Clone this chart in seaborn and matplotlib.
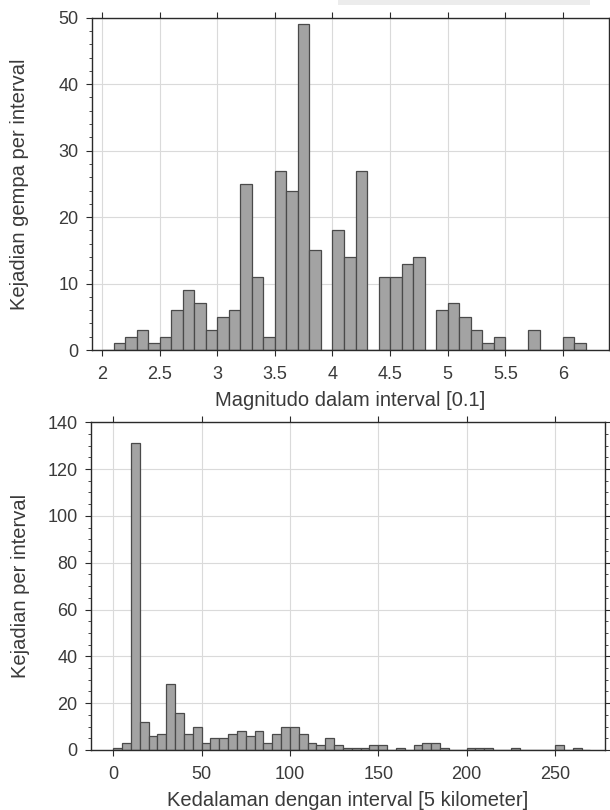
import numpy as np
import pandas as pd
import matplotlib
matplotlib.use("Agg")
import matplotlib.pyplot as plt
from matplotlib.ticker import MultipleLocator
from matplotlib.patches import Rectangle
import seaborn as sns

# magnitude histogram, bins of 0.1 starting at 2.0
mag_edges = [round(2.0 + 0.1 * i, 1) for i in range(43)]
mag_counts = [0, 1, 2, 3, 1, 2, 6, 9, 7, 3,
              5, 6, 25, 11, 2, 27, 24, 49, 15, 0,
              18, 14, 27, 0, 11, 11, 13, 14, 0, 6,
              7, 5, 3, 1, 2, 0, 0, 3, 0, 0,
              2, 1]

# depth histogram, bins of 5 km starting at 0
depth_edges = [5 * i for i in range(55)]
depth_counts = [1, 3, 131, 12, 6, 7, 28, 16, 7, 10,
                3, 5, 5, 7, 8, 6, 8, 3, 7, 10,
                10, 7, 3, 2, 5, 2, 1, 1, 1, 2,
                2, 0, 1, 0, 2, 3, 3, 1, 0, 0,
                1, 1, 1, 0, 0, 1, 0, 0, 0, 0,
                2, 0, 1, 0]

mag_df = pd.DataFrame({'mag': [(a + b) / 2 for a, b in zip(mag_edges[:-1], mag_edges[1:])],
                       'n': mag_counts})
depth_df = pd.DataFrame({'depth': [(a + b) / 2 for a, b in zip(depth_edges[:-1], depth_edges[1:])],
                         'n': depth_counts})

sns.set_style("whitegrid")
plt.rcParams['font.family'] = ['Liberation Sans', 'DejaVu Sans']

BAR = '#a3a3a3'
EDGE = '#4a4a4a'
TXT = '#3a3a3a'


def style_axes(ax, ymajor, yminor):
    ax.set_facecolor('white')
    ax.grid(True, which='major', color='#dadada', linewidth=0.8)
    ax.set_axisbelow(True)
    for s in ax.spines.values():
        s.set_visible(True)
        s.set_color('#2a2a2a')
        s.set_linewidth(1.0)
    ax.yaxis.set_major_locator(MultipleLocator(ymajor))
    ax.yaxis.set_minor_locator(MultipleLocator(yminor))
    ax.tick_params(which='both', direction='out', top=True, right=True,
                   bottom=True, left=True, color='#2a2a2a',
                   labelcolor=TXT, labelsize=13)
    ax.tick_params(which='major', length=4)
    ax.tick_params(which='minor', length=2.5)
    ax.tick_params(axis='x', which='minor', top=False, bottom=False)
    ax.tick_params(axis='x', pad=7.5)
    ax.tick_params(axis='y', pad=5.5)


fig = plt.figure(figsize=(6.1, 8.1), dpi=100)
ax1 = fig.add_axes([0.1503, 0.5679, 0.848, 0.4102])
ax2 = fig.add_axes([0.1487, 0.0741, 0.8431, 0.4046])

sns.histplot(data=mag_df, x='mag', weights='n', bins=mag_edges, ax=ax1,
             color=BAR, edgecolor=EDGE, linewidth=0.9, alpha=1)
sns.histplot(data=depth_df, x='depth', weights='n', bins=depth_edges, ax=ax2,
             color=BAR, edgecolor=EDGE, linewidth=0.9, alpha=1)

ax1.set_xlim(1.91, 6.40)
ax1.set_ylim(0, 50)
style_axes(ax1, 10, 2)
mag_ticks = [2, 2.5, 3, 3.5, 4, 4.5, 5, 5.5, 6]
ax1.set_xticks(mag_ticks)
ax1.set_xticklabels([f'{v:g}' for v in mag_ticks])
ax1.set_xlabel('Magnitudo dalam interval [0.1]', fontsize=14.5, color=TXT)
ax1.set_ylabel('Kejadian gempa per interval', fontsize=14.5, color=TXT)
ax1.xaxis.set_label_coords(0.5, -0.122)
ax1.yaxis.set_label_coords(-0.121, 0.5)

ax2.set_xlim(-12.8, 278.3)
ax2.set_ylim(0, 140)
ax2.xaxis.set_major_locator(MultipleLocator(50))
style_axes(ax2, 20, 5)
ax2.set_xlabel('Kedalaman dengan interval [5 kilometer]', fontsize=14.5, color=TXT)
ax2.set_ylabel('Kejadian per interval', fontsize=14.5, color=TXT)
ax2.xaxis.set_label_coords(0.5, -0.124)
ax2.yaxis.set_label_coords(-0.119, 0.5)

# light grey strip left over at the top edge of the figure
fig.patches.append(Rectangle((338 / 610, 1 - 4.5 / 810), 252 / 610, 4.5 / 810,
                             transform=fig.transFigure, facecolor='#ececec',
                             edgecolor='none'))

fig.savefig('out.png', dpi=100)
